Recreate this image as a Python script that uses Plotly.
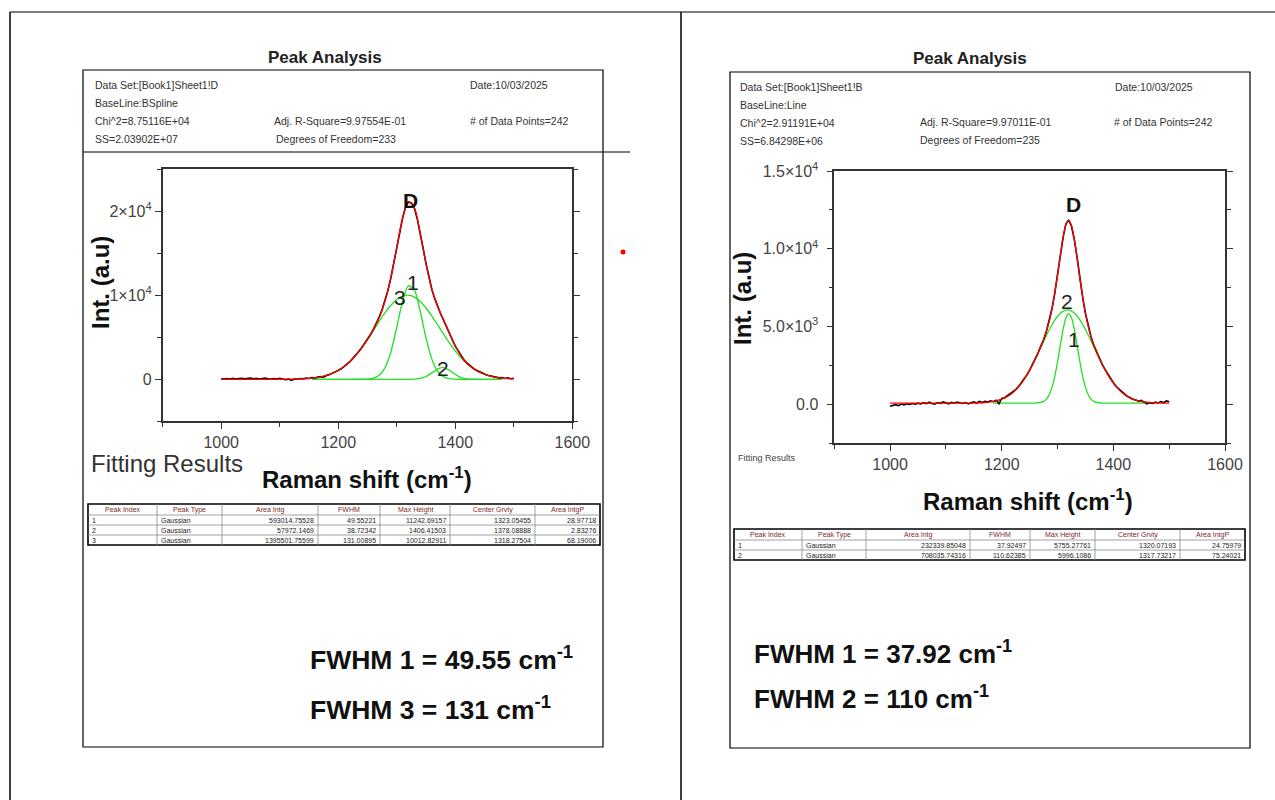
import plotly.graph_objects as go

W, H = 1275, 800
FONT = "Liberation Sans, Arial, sans-serif"

# ---------------- data: left panel (Sheet1!D, 3 Gaussians) ----------------
L_data_x = list(range(1000, 1505, 5))
L_data_y = [60, 20, 90, 40, 110, 30, 80, 130, 50, 100,
            150, 60, 120, 40, 100, 160, 70, 20, 90, 40,
            110, 30, -60, 20, -120, 40, 10, 90, 50, 140,
            90, 210, 150, 260, 320, 250, 460, 560, 700, 900,
            1060, 1250, 1540, 1800, 2100, 2500, 2870, 3320, 3760, 4250,
            4800, 5300, 5950, 6600, 7400, 8300, 9350, 10600, 12100, 13900,
            15700, 17600, 19200, 20500, 21100, 21000, 20400, 19100, 17500, 15600,
            13800, 12200, 10700, 9600, 8600, 7800, 7050, 6200, 5450, 4700,
            3950, 3350, 2760, 2300, 1950, 1600, 1350, 1100, 930, 720,
            620, 480, 400, 300, 260, 170, 220, 90, 170, 60,
            120]
L_fit_x = list(range(1000, 1510, 10))
L_fit_y = [0, 0, 0, 0, 0, 0, 1, 1, 2, 3,
           5, 10, 18, 33, 60, 105, 177, 291, 461, 709,
           1056, 1521, 2122, 2866, 3752, 4771, 5941, 7371, 9323, 12107,
           15689, 19198, 21139, 20440, 17468, 13751, 10697, 8645, 7063, 5481,
           3967, 2764, 1918, 1329, 904, 600, 385, 239, 144, 84,
           47]
L_p1_x = [1155, 1200, 1240, 1250, 1260, 1270, 1280, 1290, 1300, 1310, 1320, 1330,
          1340, 1350, 1360, 1370, 1380, 1390, 1400, 1410, 1440, 1480]
L_p1_y = [0, 0, 5, 27, 127, 471, 1394, 3287, 6187, 9289, 11130, 10638,
          8112, 4936, 2396, 928, 287, 71, 14, 2, 0, 0]
L_p2_x = [1155, 1300, 1320, 1330, 1340, 1350, 1360, 1370, 1380, 1390, 1400, 1410,
          1420, 1430, 1440, 1480]
L_p2_y = [0, 0, 2, 20, 97, 330, 772, 1249, 1396, 1077, 574, 211,
          54, 9, 1, 0]
L_p3_x = list(range(1160, 1490, 10))
L_p3_y = [177, 291, 461, 709, 1056, 1521, 2122, 2866, 3747, 4744, 5814, 6900,
          7929, 8820, 9502, 9909, 10009, 9782, 9259, 8485, 7529, 6468, 5380, 4333,
          3379, 2551, 1864, 1320, 904, 600, 385, 239, 144]

# ---------------- data: right panel (Sheet1!B, 2 Gaussians) ----------------
R_data_x = list(range(1000, 1505, 5))
R_data_y = [-120, -60, -20, -80, 20, -30, 40, 0, 60, 10,
            80, 30, 110, 50, 140, 60, 20, 120, 70, 160,
            90, 40, 130, 80, 150, 100, 60, 120, 30, 110,
            160, 90, 190, 120, 200, 150, 230, 170, 260, 40,
            380, 430, 560, 640, 790, 950, 1140, 1380, 1600, 1900,
            2200, 2560, 2900, 3300, 3750, 4150, 4700, 5350, 6150, 7150,
            8350, 9600, 10750, 11600, 11850, 11450, 10600, 9450, 8100, 6900,
            5850, 5000, 4350, 3800, 3350, 2950, 2580, 2250, 1950, 1650,
            1400, 1150, 980, 800, 660, 520, 430, 330, 290, 200,
            260, 120, 40, 110, 60, 140, 90, 180, 110, 220,
            170]
R_fit_x = [1000, 1010, 1020, 1030, 1040, 1050, 1060, 1070, 1080, 1090,
           1100, 1110, 1120, 1130, 1140, 1150, 1160, 1170, 1180, 1190,
           1200, 1210, 1220, 1230, 1240, 1250, 1260,
           1270, 1275, 1280, 1285, 1290, 1295, 1300, 1305, 1310, 1315, 1320,
           1325, 1330, 1335, 1340, 1345, 1350, 1355, 1360, 1365, 1370,
           1380, 1390, 1400, 1410, 1420, 1430, 1440, 1450, 1460, 1470,
           1480, 1490, 1500]
R_fit_y = [80, 80, 80, 80, 80, 80, 80, 80, 80, 80,
           80, 81, 82, 82, 85, 90, 101, 123, 162, 229,
           340, 513, 770, 1129, 1607, 2203, 2907,
           3709, 4164, 4688, 5329, 6135, 7141, 8326, 9590, 10742, 11554, 11824,
           11490, 10620, 9412, 8098, 6870, 5829, 4997, 4341, 3808, 3354,
           2575, 1915, 1373, 950, 640, 424, 282, 194, 141, 111,
           95, 87, 83]
R_p1_x = [1185, 1230, 1260, 1270, 1275, 1280, 1285, 1290, 1295, 1300, 1305, 1310,
          1315, 1320, 1325, 1330, 1335, 1340, 1345, 1350, 1355, 1360, 1365, 1370,
          1380, 1410, 1455]
R_p1_y = [80, 80, 86, 127, 196, 343, 622, 1095, 1805, 2741, 3809, 4826,
          5564, 5835, 5564, 4826, 3809, 2741, 1805, 1095, 622, 343, 196, 127,
          86, 80, 80]
R_p2_x = [1185, 1190, 1200, 1210, 1220, 1230, 1240, 1250, 1260, 1270, 1280, 1290,
          1300, 1310, 1320, 1330, 1340, 1350, 1360, 1370, 1380, 1390, 1400, 1410,
          1420, 1430, 1440, 1450, 1455]
R_p2_y = [191, 229, 340, 513, 770, 1129, 1607, 2203, 2901, 3662, 4425, 5120,
          5665, 5996, 6069, 5874, 5437, 4814, 4078, 3307, 2569, 1915, 1373, 950,
          640, 424, 282, 194, 164]

# ---------------- report texts ----------------
L_info = ["Data Set:[Book1]Sheet1!D", "BaseLine:BSpline", "Chi^2=8.75116E+04", "SS=2.03902E+07"]
L_info_mid = ["Adj. R-Square=9.97554E-01", "Degrees of Freedom=233"]
L_info_right = ["Date:10/03/2025", "# of Data Points=242"]
R_info = ["Data Set:[Book1]Sheet1!B", "BaseLine:Line", "Chi^2=2.91191E+04", "SS=6.84298E+06"]
R_info_mid = ["Adj. R-Square=9.97011E-01", "Degrees of Freedom=235"]
R_info_right = ["Date:10/03/2025", "# of Data Points=242"]

table_header = ["Peak Index", "Peak Type", "Area Intg", "FWHM", "Max Height", "Center Grvty", "Area IntgP"]
L_table = [["1", "Gaussian", "593014.75528", "49.55221", "11242.69157", "1323.05455", "28.97718"],
           ["2", "Gaussian", "57972.1469", "38.72342", "1406.41503", "1378.08888", "2.83276"],
           ["3", "Gaussian", "1395501.75599", "131.00895", "10012.82911", "1318.27504", "68.19006"]]
R_table = [["1", "Gaussian", "232339.85048", "37.92497", "5755.27761", "1320.07193", "24.75979"],
           ["2", "Gaussian", "708035.74316", "110.62385", "5996.1086", "1317.73217", "75.24021"]]

L_fwhm = ["FWHM 1 = 49.55 cm<sup>-1</sup>", "FWHM 3 = 131 cm<sup>-1</sup>"]
R_fwhm = ["FWHM 1 = 37.92 cm<sup>-1</sup>", "FWHM 2 = 110 cm<sup>-1</sup>"]

GREEN = "#22e022"
RED = "#ff0000"


def px(x):
    return x / W


def py(y):
    return 1 - y / H


fig = go.Figure()


def add_panel(xa, ya, comps, data_x, data_y, fit_x, fit_y):
    for cx, cy in comps:
        fig.add_trace(go.Scatter(x=cx, y=cy, mode="lines", line=dict(color=GREEN, width=1.3, shape="spline", smoothing=0.8),
                                 xaxis=xa, yaxis=ya, showlegend=False, hoverinfo="skip"))
    fig.add_trace(go.Scatter(x=data_x, y=data_y, mode="lines", line=dict(color="black", width=1.6),
                             xaxis=xa, yaxis=ya, showlegend=False))
    fig.add_trace(go.Scatter(x=fit_x, y=fit_y, mode="lines", line=dict(color=RED, width=1.3, shape="spline", smoothing=0.8),
                             xaxis=xa, yaxis=ya, showlegend=False))


add_panel("x", "y", [(L_p1_x, L_p1_y), (L_p2_x, L_p2_y), (L_p3_x, L_p3_y)], L_data_x, L_data_y, L_fit_x, L_fit_y)
add_panel("x2", "y2", [(R_p1_x, R_p1_y), (R_p2_x, R_p2_y)], R_data_x, R_data_y, R_fit_x, R_fit_y)

axis_common = dict(showline=True, linecolor="#333", linewidth=1.5, showgrid=False, zeroline=False,
                   ticks="outside", ticklen=6, tickwidth=1.3, tickcolor="#333", automargin=False,
                   tickfont=dict(family=FONT, size=16, color="#444"))

x_common = dict(axis_common, range=[900, 1600], tickmode="array", tickvals=[1000, 1200, 1400, 1600], mirror=True,
                minor=dict(tickmode="array", tickvals=[900, 1100, 1300, 1500], ticks="outside", ticklen=4, tickcolor="#333"))

fig.update_layout(
    width=W, height=H, margin=dict(l=0, r=0, t=0, b=0, pad=0, autoexpand=False),
    paper_bgcolor="white", plot_bgcolor="white", showlegend=False,
    xaxis=dict(x_common, domain=[px(162.7), px(572.3)], anchor="y"),
    yaxis=dict(axis_common, domain=[py(421.3), py(169.3)], anchor="x", range=[-5000, 25000], mirror="ticks",
               tickmode="array", tickvals=[0, 10000, 20000], ticklabelstandoff=0,
               ticktext=["0", "1×10<sup>4</sup>", "2×10<sup>4</sup>"],
               minor=dict(tickmode="array", tickvals=[-5000, 5000, 15000, 25000], ticks="outside", ticklen=4, tickcolor="#333")),
    xaxis2=dict(x_common, domain=[px(834.3), px(1225)], anchor="y2"),
    yaxis2=dict(axis_common, domain=[py(443.3), py(171)], anchor="x2", range=[-2500, 15000], mirror="ticks",
                tickmode="array", tickvals=[0, 5000, 10000, 15000], ticklabelstandoff=5,
                ticktext=["0.0", "5.0×10<sup>3</sup>", "1.0×10<sup>4</sup>", "1.5×10<sup>4</sup>"],
                minor=dict(tickmode="array", tickvals=[-2500, 2500, 7500, 12500], ticks="outside", ticklen=4, tickcolor="#333")),
)

shapes = []
annos = []


def line(x0, y0, x1, y1, w=1.2, c="black"):
    shapes.append(dict(type="line", xref="paper", yref="paper", x0=px(x0), y0=py(y0), x1=px(x1), y1=py(y1),
                       line=dict(color=c, width=w)))


def rect(x0, y0, x1, y1, w=1.2, c="black"):
    shapes.append(dict(type="rect", xref="paper", yref="paper", x0=px(x0), y0=py(y0), x1=px(x1), y1=py(y1),
                       line=dict(color=c, width=w)))


def text(t, x, y, size=10, color="#222", xanchor="left", bold=False, angle=0, family=FONT):
    if bold:
        t = "<b>" + t + "</b>"
    annos.append(dict(text=t, x=px(x), y=py(y), xref="paper", yref="paper", showarrow=False,
                      xanchor=xanchor, yanchor="middle", textangle=angle,
                      font=dict(family=family, size=size, color=color)))


# document frame
line(10, 12, 1275, 12, 1.2)
line(10, 12, 10, 800, 1.5)
line(681, 12, 681, 800, 1.5)

# report pages
rect(83, 70, 603, 747, 1.2)
line(83, 152, 630, 152, 1.0)
rect(730, 72, 1250, 748, 1.2)

# red dot
shapes.append(dict(type="circle", xref="paper", yref="paper", x0=px(620.5), y0=py(249.5), x1=px(625.5), y1=py(254.5),
                   line=dict(color=RED, width=0), fillcolor=RED))

# titles
text("Peak Analysis", 325, 57, 17, "#222", "center", True)
text("Peak Analysis", 970, 58, 17, "#222", "center", True)

# info blocks
IS = 10.5
for i, t in enumerate(L_info):
    text(t, 93, 85 + i * 18, IS, "#333")
text(L_info_mid[0], 272, 121, IS, "#333")
text(L_info_mid[1], 274, 139, IS, "#333")
text(L_info_right[0], 468, 85, IS, "#333")
text(L_info_right[1], 468, 121, IS, "#333")

for i, t in enumerate(R_info):
    text(t, 738, 87 + i * 18, IS, "#333")
text(R_info_mid[0], 918, 122, IS, "#333")
text(R_info_mid[1], 918, 140, IS, "#333")
text(R_info_right[0], 1113, 87, IS, "#333")
text(R_info_right[1], 1112, 122, IS, "#333")

# axis titles
text("Int. (a.u)", 100, 283, 24, "#111", "center", True, -90)
text("Int. (a.u)", 742, 298, 24, "#111", "center", True, -90)
text("Raman shift (cm<sup>-1</sup>)", 367, 478, 24, "#111", "center", True)
text("Raman shift (cm<sup>-1</sup>)", 1028, 500, 24, "#111", "center", True)

# fitting results captions
text("Fitting Results", 89, 463, 24, "#333")
text("Fitting Results", 736, 458, 9, "#444")

# peak labels
text("D", 411, 200, 21, "#111", "center", True)
text("1", 413, 282, 21, "#222", "center")
text("3", 400, 297, 21, "#222", "center")
text("2", 443, 368, 21, "#222", "center")
text("D", 1073, 205, 21, "#111", "center", True)
text("2", 1067, 301, 21, "#222", "center")
text("1", 1074, 339, 21, "#222", "center")


def draw_table(cols, rows_y, header, rows):
    rect(cols[0], rows_y[0], cols[-1], rows_y[-1], 1.6)
    for x in cols[1:-1]:
        line(x, rows_y[0], x, rows_y[-1], 0.8, "#888")
    for y in rows_y[1:-1]:
        line(cols[0], y, cols[-1], y, 0.8, "#888")
    for j, h in enumerate(header):
        text(h, (cols[j] + cols[j + 1]) / 2, (rows_y[0] + rows_y[1]) / 2, 7, "#7a2a2a", "center")
    for i, r in enumerate(rows):
        yc = (rows_y[i + 1] + rows_y[i + 2]) / 2
        for j, v in enumerate(r):
            if j < 2:
                text(v, cols[j] + 2, yc, 7, "#222", "left")
            else:
                text(v, cols[j + 1] - 2, yc, 7, "#222", "right")


draw_table([88, 157, 222, 318, 380, 450, 535, 600], [504, 515, 525, 535, 545], table_header, L_table)
draw_table([734, 802, 866, 970, 1030, 1095, 1180, 1245], [529, 540, 550, 560], table_header, R_table)

# FWHM notes
text(L_fwhm[0], 308, 658, 26.5, "#111", "left", True)
text(L_fwhm[1], 308, 708, 26.5, "#111", "left", True)
text(R_fwhm[0], 752, 652, 26, "#111", "left", True)
text(R_fwhm[1], 752, 697, 26, "#111", "left", True)

fig.update_layout(shapes=shapes, annotations=annos)
fig.write_html("out.html",
               post_script="document.body.style.margin='0';document.body.style.overflow='hidden';")
